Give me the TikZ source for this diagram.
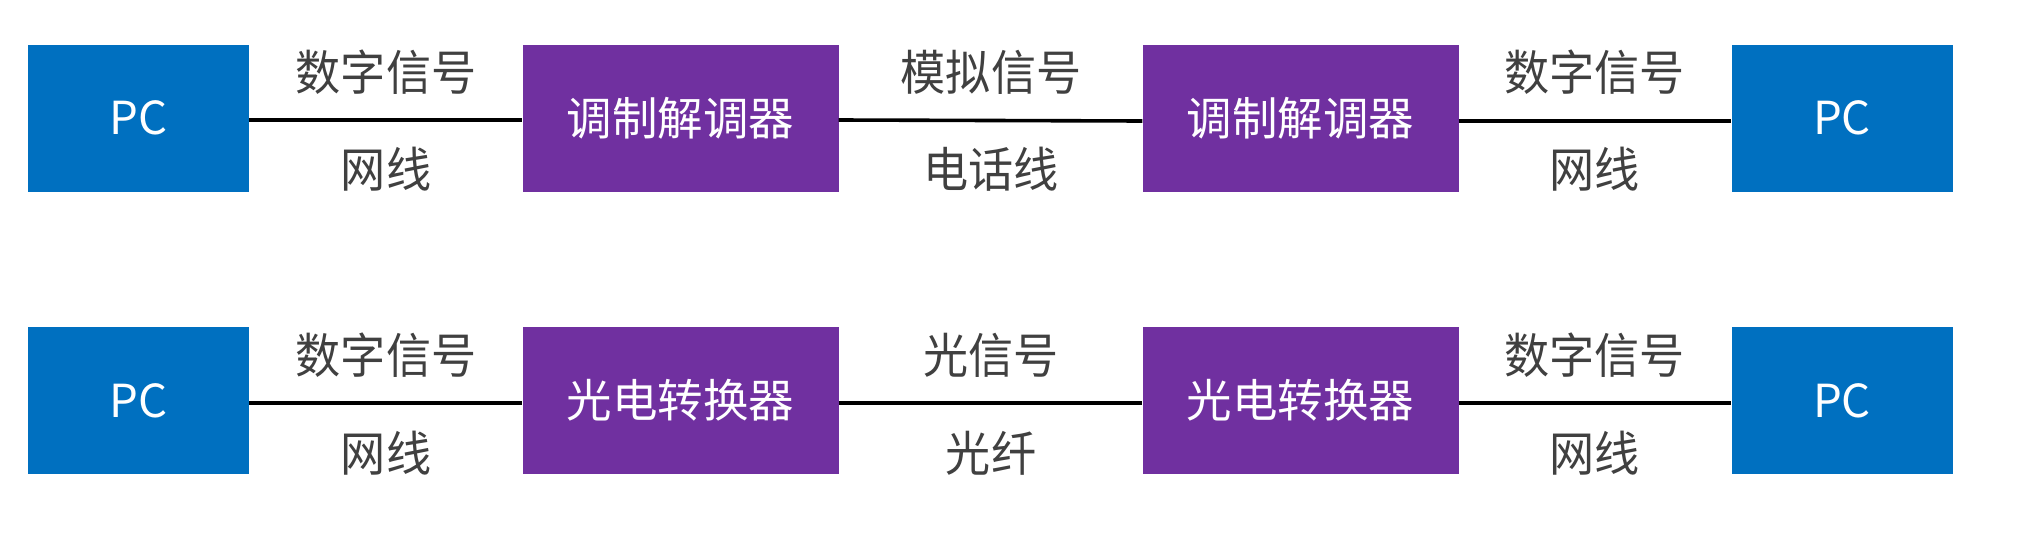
\documentclass[tikz,border=0pt]{standalone}
\usepackage{fontspec}
\newfontfamily\cjk{Noto Sans CJK SC}
\newfontfamily\cjklbl[FakeStretch=0.94]{Noto Sans CJK SC}
\definecolor{pcblue}{HTML}{0070C0}
\definecolor{devpurple}{HTML}{7030A0}
\definecolor{labelgray}{HTML}{404040}
\begin{document}
\begin{tikzpicture}[x=1pt,y=-1pt,
  every node/.style={font=\cjk\fontsize{45.5}{50}\selectfont},
  pcbox/.style={rectangle,fill=pcblue,text=white,inner sep=0pt,minimum width=221pt,minimum height=147pt},
  devbox/.style={rectangle,fill=devpurple,text=white,inner sep=0pt,minimum width=316pt,minimum height=147pt},
  lbl/.style={text=labelgray,inner sep=0pt,font=\cjklbl\fontsize{48}{52}\selectfont},
  wire/.style={line width=3.6pt,black}]
\useasboundingbox (0,0) rectangle (2032,546);
% row 1
\node[pcbox] (pa) at (138.5,118) {PC};
\node[devbox] (ma) at (680.5,118) {调制解调器};
\node[devbox] (mb) at (1300.5,118) {调制解调器};
\node[pcbox] (pb) at (1842,118) {PC};
\draw[wire] ([yshift=-2pt]pa.east) -- ([yshift=-2pt]ma.west);
\draw[wire] ([yshift=-2pt]ma.east) -- ([yshift=-3pt]mb.west);
\draw[wire] ([yshift=-3pt]mb.east) -- ([yshift=-3pt]pb.west);
\node[lbl] (la1) at (386,72.5) {数字信号};
\node[lbl] (la2) at (386,169) {网线};
\node[lbl] (la3) at (991,72.5) {模拟信号};
\node[lbl] (la4) at (991,169) {电话线};
\node[lbl] (la5) at (1594.5,72.5) {数字信号};
\node[lbl] (la6) at (1594.5,169) {网线};
% row 2
\node[pcbox] (pc) at (138.5,400.5) {PC};
\node[devbox] (mc) at (680.5,400.5) {光电转换器};
\node[devbox] (md) at (1300.5,400.5) {光电转换器};
\node[pcbox] (pd) at (1842,400.5) {PC};
\draw[wire] ([yshift=-2.5pt]pc.east) -- ([yshift=-2.5pt]mc.west);
\draw[wire] ([yshift=-2.5pt]mc.east) -- ([yshift=-2.5pt]md.west);
\draw[wire] ([yshift=-2.5pt]md.east) -- ([yshift=-2.5pt]pd.west);
\node[lbl] (lb1) at (386,355.5) {数字信号};
\node[lbl] (lb2) at (386,453) {网线};
\node[lbl] (lb3) at (991,355.5) {光信号};
\node[lbl] (lb4) at (991,453) {光纤};
\node[lbl] (lb5) at (1594.5,355.5) {数字信号};
\node[lbl] (lb6) at (1594.5,453) {网线};
\end{tikzpicture}
\end{document}
